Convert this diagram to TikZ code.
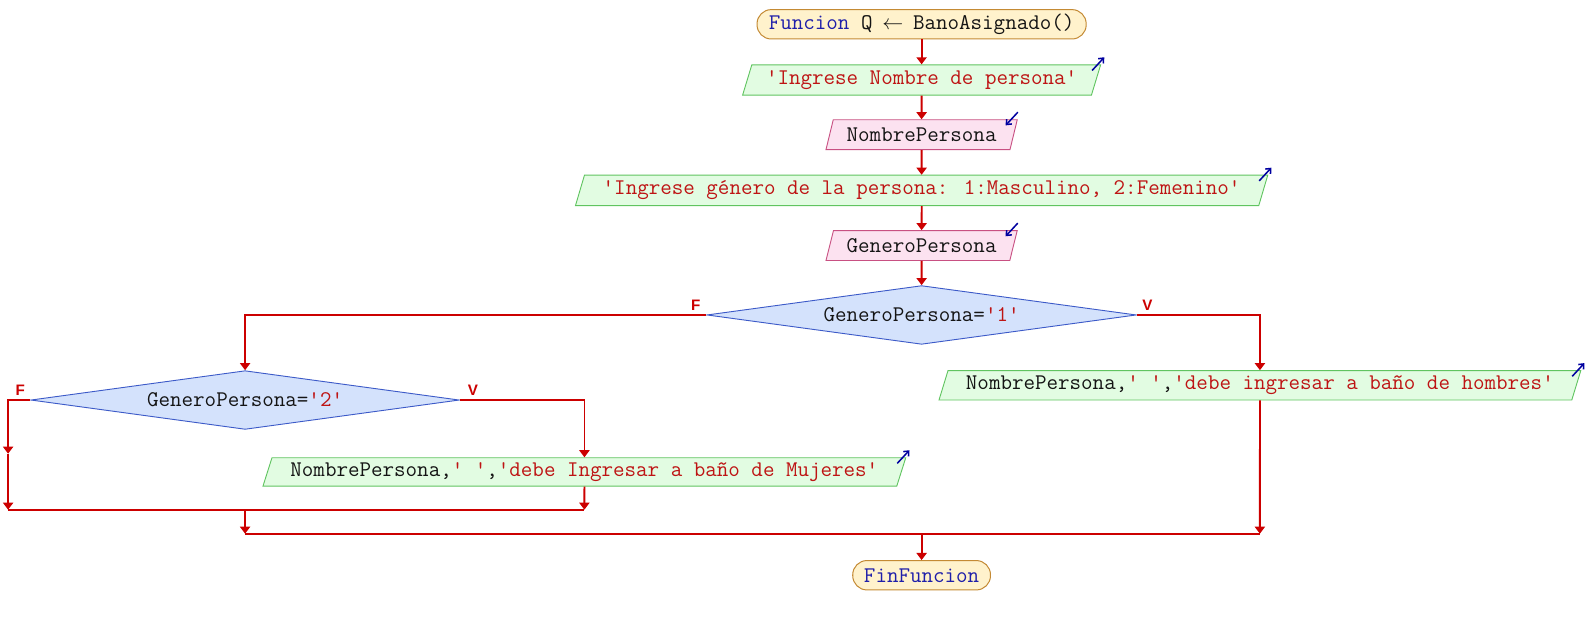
\documentclass[tikz,border=0pt]{standalone}
\usepackage{fontspec}
\newfontfamily\labfont{Liberation Sans}
\usetikzlibrary{shapes.geometric,arrows.meta}
\definecolor{termf}{RGB}{255,242,204}
\definecolor{termd}{RGB}{196,138,52}
\definecolor{outf}{RGB}{226,252,226}
\definecolor{outd}{RGB}{96,196,96}
\definecolor{inf}{RGB}{252,226,240}
\definecolor{ind}{RGB}{200,80,130}
\definecolor{decf}{RGB}{212,226,252}
\definecolor{decd}{RGB}{60,90,200}
\definecolor{flowc}{RGB}{204,0,0}
\definecolor{ioc}{RGB}{0,0,160}
\definecolor{strc}{RGB}{190,20,20}
\definecolor{kwc}{RGB}{30,30,170}
\definecolor{idc}{RGB}{20,20,20}
\newcommand\strtxt[1]{\textcolor{strc}{#1}}
\newcommand\kwtxt[1]{\textcolor{kwc}{#1}}
\begin{document}
\begin{tikzpicture}[x=1pt,y=-1pt,
  font=\ttfamily\fontsize{22.1}{24}\selectfont, text=idc,
  term/.style={draw=termd, fill=termf, rounded corners=14pt, minimum height=29pt, inner sep=0pt, line width=1pt},
  outbox/.style={trapezium, trapezium left angle=66, trapezium right angle=114, trapezium stretches=true,
     draw=outd, fill=outf, minimum height=30pt, inner sep=0pt, line width=0.9pt},
  inbox/.style={trapezium, trapezium left angle=66, trapezium right angle=114, trapezium stretches=true,
     draw=ind, fill=inf, minimum height=29.5pt, inner sep=0pt, line width=0.9pt},
  decbox/.style={diamond, aspect=7.3, draw=decd, fill=decf, inner sep=0pt, minimum height=58pt, line width=0.9pt},
  flow/.style={draw=flowc, line width=1.8pt, -{Triangle[length=7pt,width=10pt]}},
  wire/.style={draw=flowc, line width=1.8pt},
  ioarrow/.style={draw=ioc, line width=1.5pt, -{Straight Barb[length=4pt,width=7pt]}},
  lab/.style={text=flowc, font=\labfont\bfseries\fontsize{15}{15}\selectfont, inner sep=0pt}
]
\useasboundingbox (0,0) rectangle (1568,617);

\node[term, minimum width=325pt] (t1) at (910,24) {\kwtxt{Funcion} Q\hbox to 40pt{\hss$\leftarrow$\hss}BanoAsignado()};
\node[outbox, minimum width=354pt] (o1) at (910,79) {\strtxt{'Ingrese Nombre de persona'}};
\node[inbox, minimum width=189pt] (i1) at (910,133) {NombrePersona};
\node[outbox, minimum width=686pt] (o2) at (910,188) {\strtxt{'Ingrese género de la persona: 1:Masculino, 2:Femenino'}};
\node[inbox, minimum width=189pt] (i2) at (910,242.5) {GeneroPersona};
\node[decbox, minimum width=424pt] (d1) at (910,311) {GeneroPersona=\strtxt{'1'}};
\node[decbox, minimum width=423pt] (d2) at (242,395) {GeneroPersona=\strtxt{'2'}};
\node[outbox, minimum width=639pt, minimum height=28pt] (o3) at (577,466) {NombrePersona,\strtxt{' '},\strtxt{'debe Ingresar a baño de Mujeres'}};
\node[outbox, minimum width=638pt, minimum height=29pt] (o4) at (1244,380.5) {NombrePersona,\strtxt{' '},\strtxt{'debe ingresar a baño de hombres'}};
\node[term, minimum width=136pt] (t2) at (910,568) {\kwtxt{FinFuncion}};

% labels
\node[lab] (lf1) at (687,301) {F};
\node[lab] (lv1) at (1133,301) {V};
\node[lab] (lf2) at (20,385) {F};
\node[lab] (lv2) at (467,385) {V};

% io arrows
\foreach \n in {o1,o2,o3,o4}{
  \draw[ioarrow] ([shift={(-9,6)}]\n.top right corner) -- ([shift={(3,-7)}]\n.top right corner);
}
\foreach \n in {i1,i2}{
  \draw[ioarrow] ([shift={(0,-7)}]\n.top right corner) -- ([shift={(-12,6)}]\n.top right corner);
}

% junction coordinates
\coordinate (fl) at (8,448);
\coordinate (j2l) at (8,503.3);
\coordinate (j2r) at (577,503.3);
\coordinate (j2m) at (242,503.3);
\coordinate (j1l) at (242,527);
\coordinate (j1r) at (1244,527);
\coordinate (j1m) at (910,527);

% connectors
\draw[flow] (t1) -- (o1);
\draw[flow] (o1) -- (i1);
\draw[flow] (i1) -- (o2);
\draw[flow] (o2) -- (i2);
\draw[flow] (i2) -- (d1);
\draw[flow] (d1.west) -| (d2.north);
\draw[flow] (d1.east) -| (o4.north);
\draw[flow] (d2.west) -| (fl);
\draw[flow] (fl) -- (j2l);
\draw[flow] (d2.east) -| (o3.north);
\draw[flow] (o3) -- (j2r);
\draw[wire] (j2l) -- (j2r);
\draw[flow] (j2m) -- (j1l);
\draw[flow] (o4) -- (j1r);
\draw[wire] (j1l) -- (j1r);
\draw[flow] (j1m) -- (t2);
\end{tikzpicture}
\end{document}
